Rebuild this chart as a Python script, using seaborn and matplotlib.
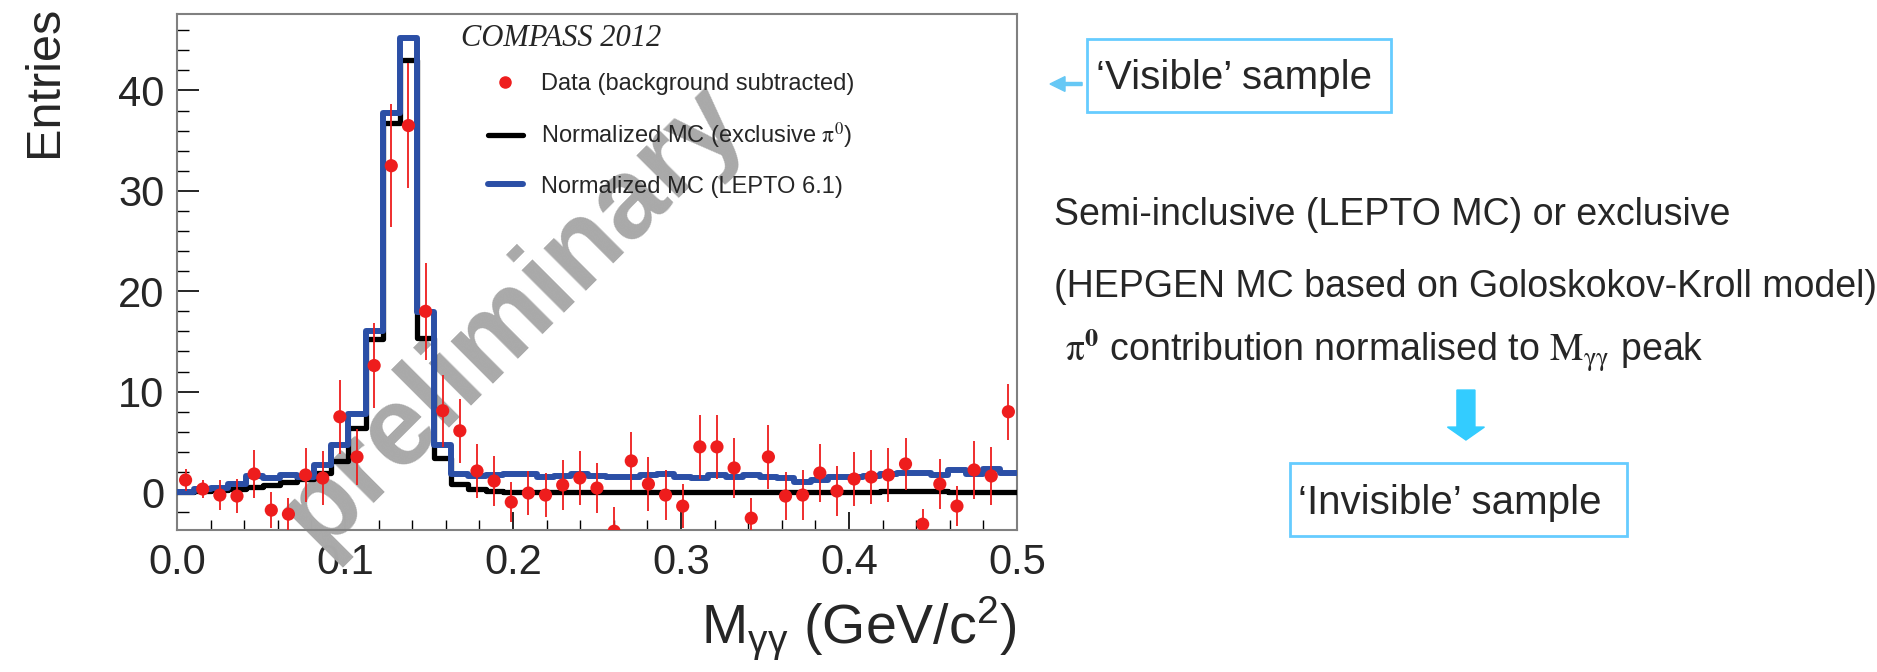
import numpy as np
import pandas as pd
import matplotlib
matplotlib.use("Agg")
import matplotlib.pyplot as plt
import seaborn as sns
from matplotlib.lines import Line2D
from matplotlib.patches import Rectangle, FancyArrow
from matplotlib.ticker import MultipleLocator

# Binning (49 bins between 0 and 0.5 GeV/c^2)
bin_edges = np.linspace(0.0, 0.5, 50)
bin_centers = 0.5 * (bin_edges[:-1] + bin_edges[1:])

# Data (background subtracted)
data_y = [1.2, 0.3, -0.3, -0.4, 1.8, -1.8, -2.2, 1.7, 1.4, 7.5,
          3.5, 12.6, 32.5, 36.5, 18.0, 8.1, 6.1, 2.1, 1.1, -1.0,
          -0.1, -0.3, 0.7, 1.4, 0.4, -3.9, 3.1, 0.8, -0.3, -1.4,
          4.5, 4.5, 2.4, -2.6, 3.5, -0.4, -0.3, 1.9, 0.1, 1.3,
          1.5, 1.7, 2.8, -3.2, 0.8, -1.4, 2.2, 1.6, 8.0]
data_err = [1.1, 0.9, 1.5, 1.7, 2.4, 1.8, 1.6, 2.7, 2.7, 3.7,
            2.8, 4.2, 6.1, 6.2, 4.8, 3.6, 3.2, 2.7, 2.5, 2.0,
            2.2, 2.2, 2.5, 2.7, 2.5, 2.4, 2.9, 2.7, 2.5, 2.2,
            3.2, 3.2, 3.0, 2.0, 3.2, 2.4, 2.5, 2.9, 2.45, 2.7,
            2.7, 2.7, 2.6, 1.5, 2.5, 2.0, 2.9, 2.9, 2.8]

# Normalized MC (exclusive pi0)
mc_excl = [0.0, 0.1, 0.25, 0.3, 0.5, 0.75, 1.0, 1.3, 1.9, 3.1,
           6.4, 15.2, 36.8, 43.0, 15.3, 3.4, 0.8, 0.35, 0.15, 0.05,
           0.05, 0.05, 0.05, 0.0, 0.0, 0.05, 0.05, 0.05, 0.0, 0.05,
           0.05, 0.05, 0.05, 0.05, 0.05, 0.0, 0.0, 0.0, 0.05, 0.05,
           0.05, 0.1, 0.15, 0.15, 0.1, 0.05, 0.05, 0.0, 0.0]

# Normalized MC (LEPTO 6.1)
mc_lepto = [0.05, 0.3, 0.4, 0.8, 1.6, 1.4, 1.65, 1.5, 2.7, 4.7,
            7.8, 16.0, 37.8, 45.2, 17.9, 4.7, 1.8, 1.55, 1.65, 1.8,
            1.75, 1.5, 1.6, 1.75, 1.55, 1.5, 1.45, 1.65, 1.75, 1.5,
            1.35, 1.65, 1.45, 1.65, 1.5, 1.35, 1.0, 1.25, 1.45, 1.5,
            1.6, 1.75, 1.85, 1.85, 1.65, 2.15, 1.75, 2.25, 1.85]

df = pd.DataFrame({"m": bin_centers, "data": data_y, "err": data_err,
                   "excl": mc_excl, "lepto": mc_lepto})

sns.set_style("ticks")
plt.rcParams["font.family"] = ["Liberation Sans", "DejaVu Sans"]
plt.rcParams["mathtext.fontset"] = "custom"
plt.rcParams["mathtext.rm"] = "Liberation Sans"
plt.rcParams["mathtext.it"] = "Liberation Sans:italic"
plt.rcParams["mathtext.bf"] = "Liberation Sans:bold"

red = "#ee1d1d"
blue = "#2b4fa6"
light_blue = "#66ccff"

fig = plt.figure(figsize=(18.77, 6.72), dpi=100)
ax = fig.add_axes([0.0943, 0.211, 0.4475, 0.768])

# histograms
edges = bin_edges.tolist()
sns.histplot(data=df, x="m", weights="excl", bins=edges, element="step",
             fill=False, color="black", linewidth=3.8, ax=ax, zorder=3)
sns.histplot(data=df, x="m", weights="lepto", bins=edges, element="step",
             fill=False, color=blue, linewidth=4.3, ax=ax, zorder=4)

# data points
ax.errorbar(df["m"], df["data"], yerr=df["err"], fmt="none", ecolor=red,
            elinewidth=1.3, capsize=0, zorder=5)
sns.scatterplot(data=df, x="m", y="data", color=red, s=90, edgecolor="none",
                ax=ax, zorder=6)

# watermark
ax.text(0.40, 0.415, "preliminary", transform=ax.transAxes, rotation=45,
        ha="center", va="center", fontsize=81, fontweight="bold",
        color="#a9a9a9", zorder=2)

ax.set_xlim(0, 0.5)
ax.set_ylim(-3.8, 47.6)
ax.xaxis.set_major_locator(MultipleLocator(0.1))
ax.xaxis.set_minor_locator(MultipleLocator(0.02))
ax.yaxis.set_major_locator(MultipleLocator(10))
ax.yaxis.set_minor_locator(MultipleLocator(2))
ax.set_xticks([0, 0.1, 0.2, 0.3, 0.4, 0.5])
ax.set_xticklabels(["0.0", "0.1", "0.2", "0.3", "0.4", "0.5"])
ax.tick_params(axis="both", which="both", direction="in", top=False, right=False,
               color="black", labelsize=30)
ax.tick_params(axis="y", which="major", length=16, width=1.2, pad=9)
ax.tick_params(axis="y", which="minor", length=8.5, width=1.0)
ax.tick_params(axis="x", which="major", length=13, width=1.2, pad=9)
ax.tick_params(axis="x", which="minor", length=7, width=1.0)
for sp in ax.spines.values():
    sp.set_color("#808080")
    sp.set_linewidth(1.5)

ax.set_xlabel(r"M$_{\mathrm{γγ}}$ (GeV/c$^{2}$)", fontsize=40, ha="right", va="center")
ax.xaxis.set_label_coords(1.0, -0.19)
ax.set_ylabel("Entries", fontsize=35, ha="right", va="center")
ax.yaxis.set_label_coords(-0.158, 1.016)

# legend
ax.text(0.338, 0.952, "COMPASS 2012", transform=ax.transAxes, fontsize=22,
        family=["Liberation Serif", "DejaVu Serif"], style="italic", va="center")
handles = [
    Line2D([], [], marker="o", color=red, linestyle="none", markersize=8),
    Line2D([], [], color="black", linewidth=3.8),
    Line2D([], [], color=blue, linewidth=4.3),
]
labels = ["Data (background subtracted)",
          r"Normalized MC (exclusive $\mathrm{π}^{0}$)",
          "Normalized MC (LEPTO 6.1)"]
leg = ax.legend(handles, labels, loc="upper left", bbox_to_anchor=(0.37, 0.885),
                frameon=False, fontsize=17, handlelength=1.5, handletextpad=0.75,
                labelspacing=1.05, borderaxespad=0, borderpad=0)
leg.get_texts()[1].set_math_fontfamily("stix")

# right-hand annotations
fig.add_artist(FancyArrow(0.5765, 0.875, -0.0171, 0, width=0.0045, head_width=0.022,
                          head_length=0.008, transform=fig.transFigure,
                          color="#66c8f5", length_includes_head=True))
fig.add_artist(Rectangle((0.5791, 0.8333), 0.162, 0.1086, transform=fig.transFigure,
                         fill=False, edgecolor=light_blue, linewidth=2))
fig.text(0.6574, 0.884, "\u2018Visible\u2019 sample", ha="center", va="center",
         fontsize=29)

fig.text(0.5615, 0.680, "Semi-inclusive (LEPTO MC) or exclusive", ha="left",
         va="center", fontsize=27)
fig.text(0.5615, 0.573, "(HEPGEN MC based on Goloskokov-Kroll model)", ha="left",
         va="center", fontsize=27)
fig.text(0.5674, 0.4777,
         r"$\mathrm{π}^{\mathbf{0}}$ contribution normalised to $\mathrm{M}_{\mathrm{γγ}}$ peak",
         ha="left", va="center", fontsize=27, math_fontfamily="stix")
fig.add_artist(FancyArrow(0.781, 0.4196, 0, -0.0744, width=0.0096, head_width=0.0197,
                          head_length=0.0193, transform=fig.transFigure,
                          color="#33ccff", length_includes_head=True))
fig.add_artist(Rectangle((0.6873, 0.2024), 0.1795, 0.1086, transform=fig.transFigure,
                         fill=False, edgecolor=light_blue, linewidth=2))
fig.text(0.7725, 0.2515, "\u2018Invisible\u2019 sample", ha="center", va="center",
         fontsize=29)

fig.savefig("out.png", dpi=100)
